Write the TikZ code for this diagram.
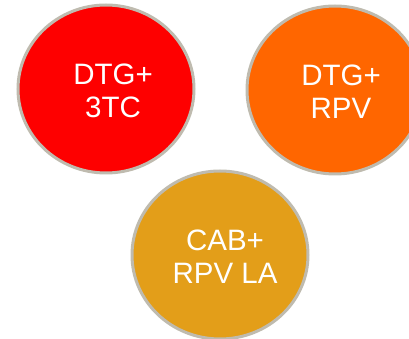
\documentclass[tikz,border=0pt]{standalone}
\usepackage{fontspec}
\setmainfont{Liberation Sans}
\usetikzlibrary{shapes.geometric}
\definecolor{ringgray}{HTML}{BFBBAF}
\definecolor{cred}{HTML}{FE0000}
\definecolor{corange}{HTML}{FF6600}
\definecolor{cgold}{HTML}{E39E19}
\tikzset{
  disc/.style={ellipse, draw=ringgray, line width=3bp, minimum width=176bp, minimum height=168bp, inner sep=0pt},
  disctext/.style={text=white, align=center, inner sep=0pt, font=\fontsize{29.5bp}{33bp}\selectfont}
}
\begin{document}
\begin{tikzpicture}
\useasboundingbox (0,0) rectangle (409bp,339bp);
\clip (0,0) rectangle (409bp,339bp);
\fill[white] (0,0) rectangle (409bp,339bp);
\node[disc, fill=cred] (c1) at (106bp,250bp) {};
\node[disc, fill=corange] (c2) at (335bp,249bp) {};
\node[disc, fill=cgold] (c3) at (220bp,84bp) {};
\node[disctext] (t1) at ([xshift=7bp,yshift=-2bp]c1.center) {DTG+\\3TC};
\node[disctext] (t2) at ([xshift=6bp,yshift=-2bp]c2.center) {DTG+\\RPV};
\node[disctext] (t3) at ([xshift=5bp,yshift=-2bp]c3.center) {CAB+\\RPV LA};
\end{tikzpicture}
\end{document}
